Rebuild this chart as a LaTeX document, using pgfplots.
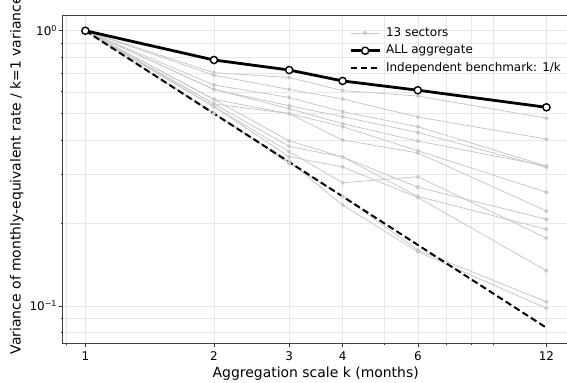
\documentclass[border=0pt]{standalone}
\usepackage{pgfplots}
\pgfplotsset{compat=1.18}
\usepackage{fontspec}
\setmainfont{DejaVu Sans}
\definecolor{sec}{RGB}{200,200,200}
\definecolor{gridc}{RGB}{232,232,232}
\begin{document}
\begin{tikzpicture}
\begin{axis}[
  at={(0,0)}, anchor=south west,
  scale only axis, width=506bp, height=327.6bp,
  xmode=log, ymode=log,
  xmin=0.885, xmax=13.53, ymin=0.0732, ymax=1.134,
  xtick={1,2,3,4,6,12}, xticklabels={1,2,3,4,6,12},
  minor xtick={0.9,5,7,8,9},
  ytick={0.1,1}, yticklabels={10\textsuperscript{−1},10\textsuperscript{0}},
  minor ytick={0.08,0.09,0.2,0.3,0.4,0.5,0.6,0.7,0.8,0.9},
  grid=both,
  major grid style={gridc, line width=0.6bp},
  minor grid style={gridc, line width=0.5bp},
  tick align=outside, tick pos=left,
  major tick length=3.5bp, minor tick length=2bp,
  every tick/.style={black!80, line width=0.6bp},
  axis line style={black!75, line width=0.8bp},
  xticklabel style={font=\fontsize{12}{14}\selectfont, inner sep=0pt, anchor=north, yshift=-5bp},
  yticklabel style={font=\fontsize{12}{14}\selectfont, inner sep=0pt, anchor=east, xshift=-2bp},
  xlabel={Aggregation scale k (months)},
  ylabel={Variance of monthly-equivalent rate / k=1 variance},
  every axis x label/.style={at={(axis description cs:0.5,0)}, anchor=north, inner sep=0pt, yshift=-23.5bp, font=\fontsize{14}{16}\selectfont},
  every axis y label/.style={at={(axis description cs:-0.0771,0.513)}, rotate=90, anchor=south, inner sep=0pt, font=\fontsize{14}{16}\selectfont},
  legend cell align=left,
  legend style={at={(axis description cs:0.566,0.966)}, anchor=north west, draw=none, fill=none, inner sep=0pt,
    font=\fontsize{12}{14}\selectfont,
    nodes={inner sep=0pt, text height=9bp, text depth=3bp},
    row sep=5.7bp,
    /tikz/every odd column/.style={column sep=5bp}},
  legend image code/.code={\draw[mark repeat=2,mark phase=2,#1] plot coordinates {(0bp,0bp) (14.5bp,0bp) (29bp,0bp)};},
]
% sectors
\pgfplotsset{sector/.style={sec, line width=0.8bp, mark=*, mark size=1.7bp, mark options={fill=sec, draw=sec}}}
\addplot[sector] coordinates {(1,1) (2,0.704) (3,0.676) (4,0.606) (6,0.579) (12,0.481)};
\addlegendentry{13 sectors}
\addplot[sector, forget plot] coordinates {(1,1) (2,0.689) (3,0.612) (4,0.565) (6,0.486) (12,0.404)};
\addplot[sector, forget plot] coordinates {(1,1) (2,0.635) (3,0.572) (4,0.508) (6,0.448) (12,0.3225)};
\addplot[sector, forget plot] coordinates {(1,1) (2,0.612) (3,0.534) (4,0.487) (6,0.427) (12,0.319)};
\addplot[sector, forget plot] coordinates {(1,1) (2,0.612) (3,0.521) (4,0.4595) (6,0.3975) (12,0.3225)};
\addplot[sector, forget plot] coordinates {(1,1) (2,0.563) (3,0.500) (4,0.448) (6,0.3665) (12,0.259)};
\addplot[sector, forget plot] coordinates {(1,1) (2,0.542) (3,0.500) (4,0.401) (6,0.360) (12,0.2214)};
\addplot[sector, forget plot] coordinates {(1,1) (2,0.563) (3,0.398) (4,0.3477) (6,0.270) (12,0.2065)};
\addplot[sector, forget plot] coordinates {(1,1) (2,0.542) (3,0.380) (4,0.3477) (6,0.250) (12,0.190)};
\addplot[sector, forget plot] coordinates {(1,1) (2,0.530) (3,0.3634) (4,0.2805) (6,0.2948) (12,0.1766)};
\addplot[sector, forget plot] coordinates {(1,1) (2,0.530) (3,0.3485) (4,0.3198) (6,0.248) (12,0.1343)};
\addplot[sector, forget plot] coordinates {(1,1) (2,0.501) (3,0.330) (4,0.250) (6,0.1597) (12,0.1036)};
\addplot[sector, forget plot] coordinates {(1,1) (2,0.501) (3,0.335) (4,0.2327) (6,0.1575) (12,0.0981)};
% benchmark
\addplot[black, line width=2bp, dash pattern=on 6.5bp off 3.5bp, forget plot] coordinates {(1,1) (2,0.5) (3,0.33333) (4,0.25) (6,0.166667) (12,0.083333)};
% ALL
\addplot[black, line width=2.8bp, mark=*, mark size=3.6bp, mark options={fill=white, draw=black, line width=1.4bp, solid}] coordinates {(1,1) (2,0.783) (3,0.720) (4,0.657) (6,0.608) (12,0.527)};
\addlegendentry{ALL aggregate}
\addlegendimage{black, line width=2bp, dash pattern=on 6.5bp off 3.5bp}
\addlegendentry{Independent benchmark: 1/k}
\end{axis}
\pgfresetboundingbox
\path[use as bounding box] (-62.7bp,-39.7bp) rectangle (504.3bp,343.3bp);
\end{tikzpicture}
\end{document}
